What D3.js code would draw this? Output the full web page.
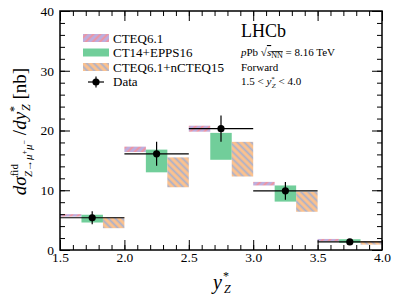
<!DOCTYPE html>
<html>
<head>
<meta charset="utf-8">
<script src="https://cdn.jsdelivr.net/npm/d3@7"></script>
<style>
  body { margin: 0; background: #fff; }
  text { font-family: "Liberation Serif", "DejaVu Serif", serif; fill: #000; }
</style>
</head>
<body>
<div id="chart"></div>
<script>
// bins in y*_Z
const binEdges = [1.5, 2.0, 2.5, 3.0, 3.5, 4.0];
const dataY = [5.4, 16.1, 20.3, 9.9, 1.35];
const dataErr = [1.1, 2.0, 2.2, 1.5, 0.3];
const cteqLo = [5.6, 16.4, 19.8, 10.8, 1.5];
const cteqHi = [6.0, 17.3, 20.8, 11.4, 1.85];
const eppsLo = [4.6, 13.0, 15.1, 8.1, 1.2];
const eppsHi = [5.9, 16.8, 19.6, 10.8, 1.8];
const ncteqLo = [3.65, 10.5, 12.3, 6.4, 0.9];
const ncteqHi = [5.5, 15.5, 18.1, 9.7, 1.5];
const xTicks = [1.5, 2.0, 2.5, 3.0, 3.5, 4.0];
const yTicks = [0, 10, 20, 30, 40];
const legendNames = ['CTEQ6.1', 'CT14+EPPS16', 'CTEQ6.1+nCTEQ15', 'Data'];

const width = 398, height = 304;
const margin = {top: 11, right: 16, bottom: 54, left: 60};
const w = width - margin.left - margin.right;
const h = height - margin.top - margin.bottom;
const serif = '"Liberation Serif", "DejaVu Serif", serif';

const svg = d3.select('#chart').append('svg')
  .attr('width', width)
  .attr('height', height)
  .attr('font-family', serif);

const defs = svg.append('defs');

// hatch patterns
function hatch(id, bg, fg, dir) {
  const p = defs.append('pattern')
    .attr('id', id)
    .attr('patternUnits', 'userSpaceOnUse')
    .attr('width', 5).attr('height', 5)
    .attr('patternTransform', `rotate(${dir})`);
  p.append('rect').attr('width', 5).attr('height', 5).attr('fill', bg);
  p.append('line').attr('x1', 2.5).attr('y1', 0).attr('x2', 2.5).attr('y2', 5)
    .attr('stroke', fg).attr('stroke-width', 1.8);
}
hatch('hCteq', '#b5a5dc', '#f5848c', 45);
hatch('hNcteq', '#fdbb80', '#9fa8c8', -45);

const fills = ['url(#hCteq)', '#62c98f', 'url(#hNcteq)'];

const g = svg.append('g')
  .attr('transform', `translate(${margin.left},${margin.top})`);

const x = d3.scaleLinear().domain([1.5, 4.0]).range([0, w]);
const y = d3.scaleLinear().domain([0, 40]).range([h, 0]);

const bins = d3.range(dataY.length).map(i => ({
  x0: binEdges[i], x1: binEdges[i + 1],
  val: dataY[i], err: dataErr[i],
  models: [[cteqLo[i], cteqHi[i]], [eppsLo[i], eppsHi[i]], [ncteqLo[i], ncteqHi[i]]]
}));

/* model bands */
bins.forEach(b => {
  const step = (b.x1 - b.x0) / 3;
  b.models.forEach((m, k) => {
    g.append('rect')
      .attr('x', x(b.x0 + k * step))
      .attr('width', x(b.x0 + (k + 1) * step) - x(b.x0 + k * step))
      .attr('y', y(m[1]))
      .attr('height', y(m[0]) - y(m[1]))
      .attr('fill', fills[k])
      .attr('opacity', 0.9);
  });
});

/* data */
const pts = g.append('g');
pts.selectAll('.xerr').data(bins).enter().append('line')
  .attr('x1', d => x(d.x0)).attr('x2', d => x(d.x1))
  .attr('y1', d => y(d.val)).attr('y2', d => y(d.val))
  .attr('stroke', '#000').attr('stroke-width', 1.2);
pts.selectAll('.yerr').data(bins).enter().append('line')
  .attr('x1', d => x((d.x0 + d.x1) / 2)).attr('x2', d => x((d.x0 + d.x1) / 2))
  .attr('y1', d => y(d.val - d.err)).attr('y2', d => y(d.val + d.err))
  .attr('stroke', '#000').attr('stroke-width', 1.2);
pts.selectAll('circle').data(bins).enter().append('circle')
  .attr('cx', d => x((d.x0 + d.x1) / 2))
  .attr('cy', d => y(d.val))
  .attr('r', 3.6)
  .attr('fill', '#000');

/* axes, ticks inside on all sides */
function axisStyle(sel) {
  sel.attr('font-family', serif);
  sel.select('.domain').remove();
  sel.selectAll('line').attr('stroke', '#000').attr('stroke-width', 1);
}
const xMinor = d3.range(15, 41).map(v => v / 10);
const yMinor = d3.range(0, 41, 2);

g.append('g').attr('transform', `translate(0,${h})`)
  .call(d3.axisBottom(x).tickValues(xMinor).tickSize(-5).tickFormat(''))
  .call(axisStyle);
g.append('g').attr('transform', `translate(0,${h})`)
  .call(d3.axisBottom(x).tickValues(xTicks).tickSize(-10).tickFormat(d3.format('.1f')))
  .call(axisStyle)
  .selectAll('text').attr('font-size', 13.5).attr('fill', '#000').attr('y', 2).attr('dy', '0.71em');
g.append('g')
  .call(d3.axisTop(x).tickValues(xMinor).tickSize(-5).tickFormat(''))
  .call(axisStyle);
g.append('g')
  .call(d3.axisTop(x).tickValues(xTicks).tickSize(-10).tickFormat(''))
  .call(axisStyle);

g.append('g')
  .call(d3.axisLeft(y).tickValues(yMinor).tickSize(-5).tickFormat(''))
  .call(axisStyle);
g.append('g')
  .call(d3.axisLeft(y).tickValues(yTicks).tickSize(-10).tickFormat(d3.format('d')))
  .call(axisStyle)
  .selectAll('text').attr('font-size', 13.5).attr('fill', '#000').attr('x', -6);
g.append('g').attr('transform', `translate(${w},0)`)
  .call(d3.axisRight(y).tickValues(yMinor).tickSize(-5).tickFormat(''))
  .call(axisStyle);
g.append('g').attr('transform', `translate(${w},0)`)
  .call(d3.axisRight(y).tickValues(yTicks).tickSize(-10).tickFormat(''))
  .call(axisStyle);

g.append('rect')
  .attr('width', w).attr('height', h)
  .attr('fill', 'none').attr('stroke', '#000').attr('stroke-width', 1.5);

/* legend */
const leg = g.append('g').attr('transform', 'translate(23,23)');
legendNames.forEach((name, i) => {
  const row = leg.append('g').attr('transform', `translate(0,${i * 14.5})`);
  if (i < 3) {
    row.append('rect').attr('x', 0).attr('y', 0).attr('width', 26).attr('height', 8)
      .attr('fill', fills[i]).attr('opacity', 0.9);
  } else {
    row.append('line').attr('x1', 13).attr('x2', 13).attr('y1', -1).attr('y2', 10)
      .attr('stroke', '#000').attr('stroke-width', 1.2);
    row.append('line').attr('x1', 5).attr('x2', 21).attr('y1', 4.5).attr('y2', 4.5)
      .attr('stroke', '#000').attr('stroke-width', 1.2);
    row.append('circle').attr('cx', 13).attr('cy', 4.5).attr('r', 3.6).attr('fill', '#000');
  }
  row.append('text').attr('x', 30).attr('y', 8.5).attr('font-size', 13).text(name);
});

/* annotations */
const ann = g.append('g').attr('transform', 'translate(181,0)');
ann.append('text').attr('x', 0).attr('y', 26).attr('font-size', 18).text('LHCb');
const t1 = ann.append('text').attr('x', 0).attr('y', 45).attr('font-size', 11);
t1.append('tspan').attr('font-style', 'italic').text('p');
t1.append('tspan').text('Pb \u221A');
t1.append('tspan').attr('font-style', 'italic').attr('text-decoration', 'overline').text('s');
t1.append('tspan').attr('font-size', 8).attr('dy', 2).attr('text-decoration', 'overline').text('NN');
t1.append('tspan').attr('dy', -2).text(' = 8.16 TeV');
ann.append('text').attr('x', 0).attr('y', 60).attr('font-size', 11).text('Forward');
const t3 = ann.append('text').attr('x', 0).attr('y', 74).attr('font-size', 11);
t3.append('tspan').text('1.5 < ');
t3.append('tspan').attr('font-style', 'italic').text('y');
t3.append('tspan').attr('font-size', 7).attr('dy', -4).text('*');
t3.append('tspan').attr('font-size', 7).attr('font-style', 'italic').attr('dy', 7).attr('dx', -3).text('Z');
t3.append('tspan').attr('dy', -3).text(' < 4.0');

/* axis titles */
const xt = svg.append('text')
  .attr('x', 213).attr('y', 289)
  .attr('font-size', 20);
xt.append('tspan').attr('font-style', 'italic').text('y');
xt.append('tspan').attr('font-size', 12).attr('dy', -9).attr('dx', 1).text('*');
xt.append('tspan').attr('font-size', 12).attr('font-style', 'italic').attr('dy', 13).attr('dx', -5).text('Z');

const yt = svg.append('text')
  .attr('transform', `translate(26,${margin.top + h / 2 + 1}) rotate(-90)`)
  .attr('text-anchor', 'middle')
  .attr('font-size', 19);
yt.append('tspan').attr('font-style', 'italic').text('d\u03C3');
yt.append('tspan').attr('font-size', 11).attr('dy', -8).text('fid');
yt.append('tspan').attr('font-size', 11).attr('font-style', 'italic').attr('dy', 14).attr('dx', -13).text('Z\u2192\u03BC');
yt.append('tspan').attr('font-size', 8).attr('dy', -5).text('+');
yt.append('tspan').attr('font-size', 11).attr('font-style', 'italic').attr('dy', 5).text('\u03BC');
yt.append('tspan').attr('font-size', 8).attr('dy', -5).text('\u2212');
yt.append('tspan').attr('dy', -1).text(' /');
yt.append('tspan').attr('font-style', 'italic').text('dy');
yt.append('tspan').attr('font-size', 12).attr('dy', -8).text('*');
yt.append('tspan').attr('font-size', 12).attr('font-style', 'italic').attr('dy', 12).attr('dx', -5).text('Z');
yt.append('tspan').attr('dy', -4).text(' [nb]');
</script>
</body>
</html>
